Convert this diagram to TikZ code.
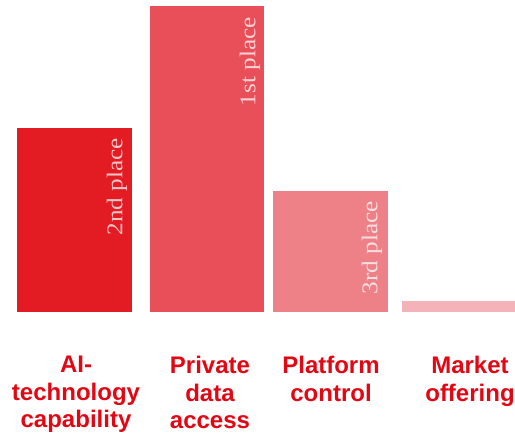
\documentclass[tikz,border=0pt]{standalone}
\usepackage{fontspec}
\setmainfont{Liberation Sans}
\newfontfamily\serifl[FakeStretch=1.12]{Liberation Serif}
\definecolor{barA}{HTML}{E31B23}
\definecolor{barB}{HTML}{E94F58}
\definecolor{barC}{HTML}{EE8088}
\definecolor{barD}{HTML}{F4B3B8}
\definecolor{labred}{HTML}{E30613}
\begin{document}
\begin{tikzpicture}[x=1pt,y=1pt,
  place/.style={rotate=90,anchor=east,inner sep=0pt,text=white,text opacity=0.75,font=\serifl\fontsize{22.5}{24}\selectfont},
  cat/.style={anchor=north,inner sep=0pt,align=center,text=labred,font=\bfseries\fontsize{24}{27.5}\selectfont}]
\useasboundingbox (0,0) rectangle (515,435);
\fill[barA] (17,123) rectangle (132,307) coordinate (b1);
\fill[barB] (150,123) rectangle (264,429) coordinate (b2);
\fill[barC] (273,123) rectangle (388,244) coordinate (b3);
\fill[barD] (402,123) rectangle (515,134) coordinate (b4);
\node[place] (p2) at (117,297) {2nd place};
\node[place] (p1) at (250,418) {1st place};
\node[place] (p3) at (372,234) {3rd place};
\node[cat] (c1) at (76,79) {AI-\\technology\\capability};
\node[cat] (c2) at (210,79) {Private\\data\\access};
\node[cat] (c3) at (331,79) {Platform\\control};
\node[cat] (c4) at (470,79) {Market\\offering};
\end{tikzpicture}
\end{document}
